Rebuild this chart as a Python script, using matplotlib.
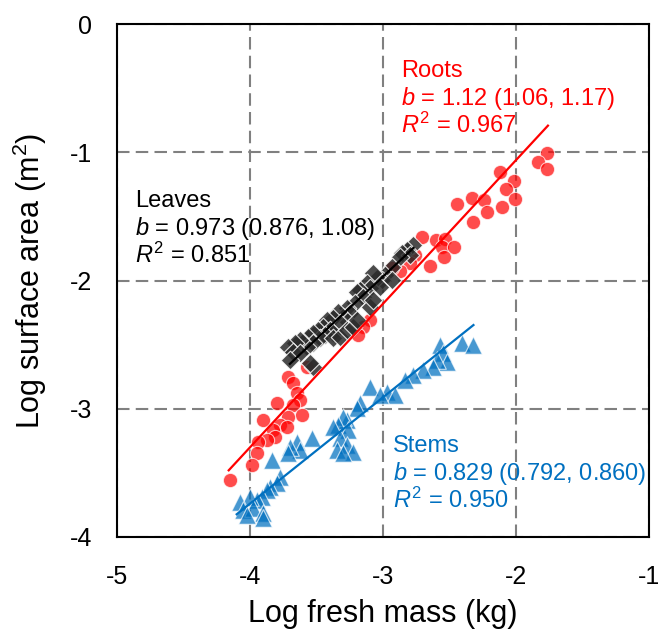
import numpy as np
import matplotlib
matplotlib.use('Agg')
import matplotlib.pyplot as plt

plt.rcParams['font.family'] = ['Liberation Sans', 'DejaVu Sans']
plt.rcParams['mathtext.fontset'] = 'custom'
plt.rcParams['mathtext.rm'] = 'Liberation Sans'
plt.rcParams['mathtext.it'] = 'Liberation Sans:italic'
plt.rcParams['axes.unicode_minus'] = False

# datos (log masa fresca, log area)
roots_x = [-1.765, -1.833, -1.765, -2.12, -2.015, -2.075, -2.005, -2.108, -2.328, -2.238,
           -2.44, -2.22, -2.32, -2.708, -2.60, -2.533, -2.558, -2.465, -2.545, -2.645,
           -2.758, -2.795, -2.875, -2.933, -3.098, -3.148, -3.186, -3.574, -3.712, -3.674,
           -3.649, -3.624, -3.674, -3.611, -3.712, -3.799, -3.900, -3.774, -3.824, -3.812,
           -3.724, -3.875, -3.937, -3.950, -3.987, -4.150]
roots_y = [-1.005, -1.077, -1.134, -1.155, -1.224, -1.289, -1.361, -1.425, -1.353, -1.374,
           -1.407, -1.469, -1.546, -1.657, -1.683, -1.675, -1.742, -1.735, -1.820, -1.889,
           -1.799, -1.863, -1.928, -1.902, -2.308, -2.360, -2.425, -2.672, -2.750, -2.802,
           -2.880, -2.932, -2.971, -3.049, -3.062, -2.958, -3.088, -3.127, -3.166, -3.218,
           -3.140, -3.244, -3.257, -3.348, -3.439, -3.555]

leaves_x = [-2.772, -2.822, -2.860, -2.797, -2.872, -2.935, -2.985, -3.010, -3.048, -2.935,
            -3.073, -3.123, -3.098, -3.173, -3.198, -3.148, -3.211, -3.273, -3.248, -3.298,
            -3.336, -3.373, -3.323, -3.424, -3.449, -3.486, -3.399, -3.373, -3.436, -3.474,
            -3.524, -3.561, -3.599, -3.524, -3.574, -3.624, -3.662, -3.712, -3.674, -3.624,
            -3.699, -3.524, -3.549, -3.373, -3.323, -3.273, -3.223, -3.198, -3.098, -3.073,
            -3.023]
leaves_y = [-1.723, -1.762, -1.788, -1.801, -1.814, -1.892, -1.957, -1.996, -1.983, -1.996,
            -1.944, -2.022, -2.061, -2.074, -2.087, -2.126, -2.178, -2.217, -2.256, -2.282,
            -2.243, -2.295, -2.334, -2.308, -2.360, -2.386, -2.386, -2.412, -2.425, -2.451,
            -2.412, -2.438, -2.477, -2.490, -2.516, -2.464, -2.490, -2.516, -2.555, -2.568,
            -2.620, -2.672, -2.646, -2.451, -2.438, -2.386, -2.360, -2.308, -2.204, -2.152,
            -2.048]

stems_x = [-2.571, -2.408, -2.321, -2.546, -2.521, -2.596, -2.621, -2.697, -2.772, -2.834,
           -3.098, -2.973, -2.910, -3.023, -3.173, -3.198, -3.273, -3.298, -3.336, -3.373,
           -3.261, -3.323, -3.273, -3.223, -3.348, -3.298, -3.536, -3.649, -3.624, -3.699,
           -3.712, -3.837, -3.775, -3.800, -3.850, -3.875, -3.912, -3.950, -4.000, -4.075,
           -4.050, -3.975, -3.900, -3.900, -4.025]
stems_y = [-2.503, -2.490, -2.503, -2.568, -2.633, -2.620, -2.672, -2.698, -2.737, -2.776,
           -2.828, -2.867, -2.893, -2.893, -2.958, -2.997, -3.088, -3.062, -3.127, -3.140,
           -3.166, -3.231, -3.283, -3.335, -3.322, -3.348, -3.231, -3.257, -3.322, -3.296,
           -3.348, -3.400, -3.530, -3.582, -3.608, -3.634, -3.686, -3.712, -3.686, -3.725,
           -3.790, -3.777, -3.816, -3.855, -3.829]

# ajustes: pendiente b, intercepto y rango de x de cada recta
roots_fit = [1.12, 1.179, -4.16, -1.76]
leaves_fit = [0.973, 0.95, -3.70, -2.77]
stems_fit = [0.829, -0.424, -4.10, -2.32]

rojo = '#FF0000'
azul = '#0070C0'
negro = '#000000'

fig = plt.figure(figsize=(6.7, 6.33), dpi=100)
ax = fig.add_axes([0.1746, 0.1517, 0.7941, 0.8103])

ax.scatter(roots_x, roots_y, s=105, marker='o', color=rojo, alpha=0.7, edgecolors='white', linewidths=0.8, zorder=3)
ax.scatter(leaves_x, leaves_y, s=90, marker='D', color='#2b2b2b', alpha=0.85, edgecolors='white', linewidths=0.8, zorder=4)
ax.scatter(stems_x, stems_y, s=160, marker='^', color=azul, alpha=0.72, edgecolors='white', linewidths=0.8, zorder=3)

# rectas de regresion
for fit, col in [(roots_fit, rojo), (leaves_fit, negro), (stems_fit, azul)]:
    xx = np.array([fit[2], fit[3]])
    ax.plot(xx, fit[0] * xx + fit[1], color=col, lw=1.6, zorder=5)

ax.set_xlim(-5, -1)
ax.set_ylim(-4, 0)
ax.set_xticks([-5, -4, -3, -2, -1])
ax.set_yticks([-4, -3, -2, -1, 0])
ax.tick_params(length=0, labelsize=18)
ax.tick_params(axis='x', pad=20)
ax.tick_params(axis='y', pad=18)
ax.grid(True, color='#808080', lw=1.5, linestyle=(0, (6, 3)))
ax.set_axisbelow(True)
for sp in ax.spines.values():
    sp.set_linewidth(1.5)

ax.set_xlabel('Log fresh mass (kg)', fontsize=22)
ax.set_ylabel('Log surface area (m$^2$)', fontsize=22)
ax.xaxis.set_label_coords(0.5, -0.12)
ax.yaxis.set_label_coords(-0.127, 0.5)

# textos
ax.text(-2.865, -0.413, 'Roots', color=rojo, fontsize=17, va='baseline')
ax.text(-2.865, -0.632, '$b$ = 1.12 (1.06, 1.17)', color=rojo, fontsize=17, va='baseline')
ax.text(-2.865, -0.850, '$R^2$ = 0.967', color=rojo, fontsize=17, va='baseline')

ax.text(-4.865, -1.427, 'Leaves', color=negro, fontsize=17, va='baseline')
ax.text(-4.865, -1.645, '$b$ = 0.973 (0.876, 1.08)', color=negro, fontsize=17, va='baseline')
ax.text(-4.865, -1.864, '$R^2$ = 0.851', color=negro, fontsize=17, va='baseline')

ax.text(-2.925, -3.337, 'Stems', color=azul, fontsize=17, va='baseline')
ax.text(-2.925, -3.556, '$b$ = 0.829 (0.792, 0.860)', color=azul, fontsize=17, va='baseline')
ax.text(-2.925, -3.774, '$R^2$ = 0.950', color=azul, fontsize=17, va='baseline')

plt.savefig('out.png', dpi=100)
plt.close()
